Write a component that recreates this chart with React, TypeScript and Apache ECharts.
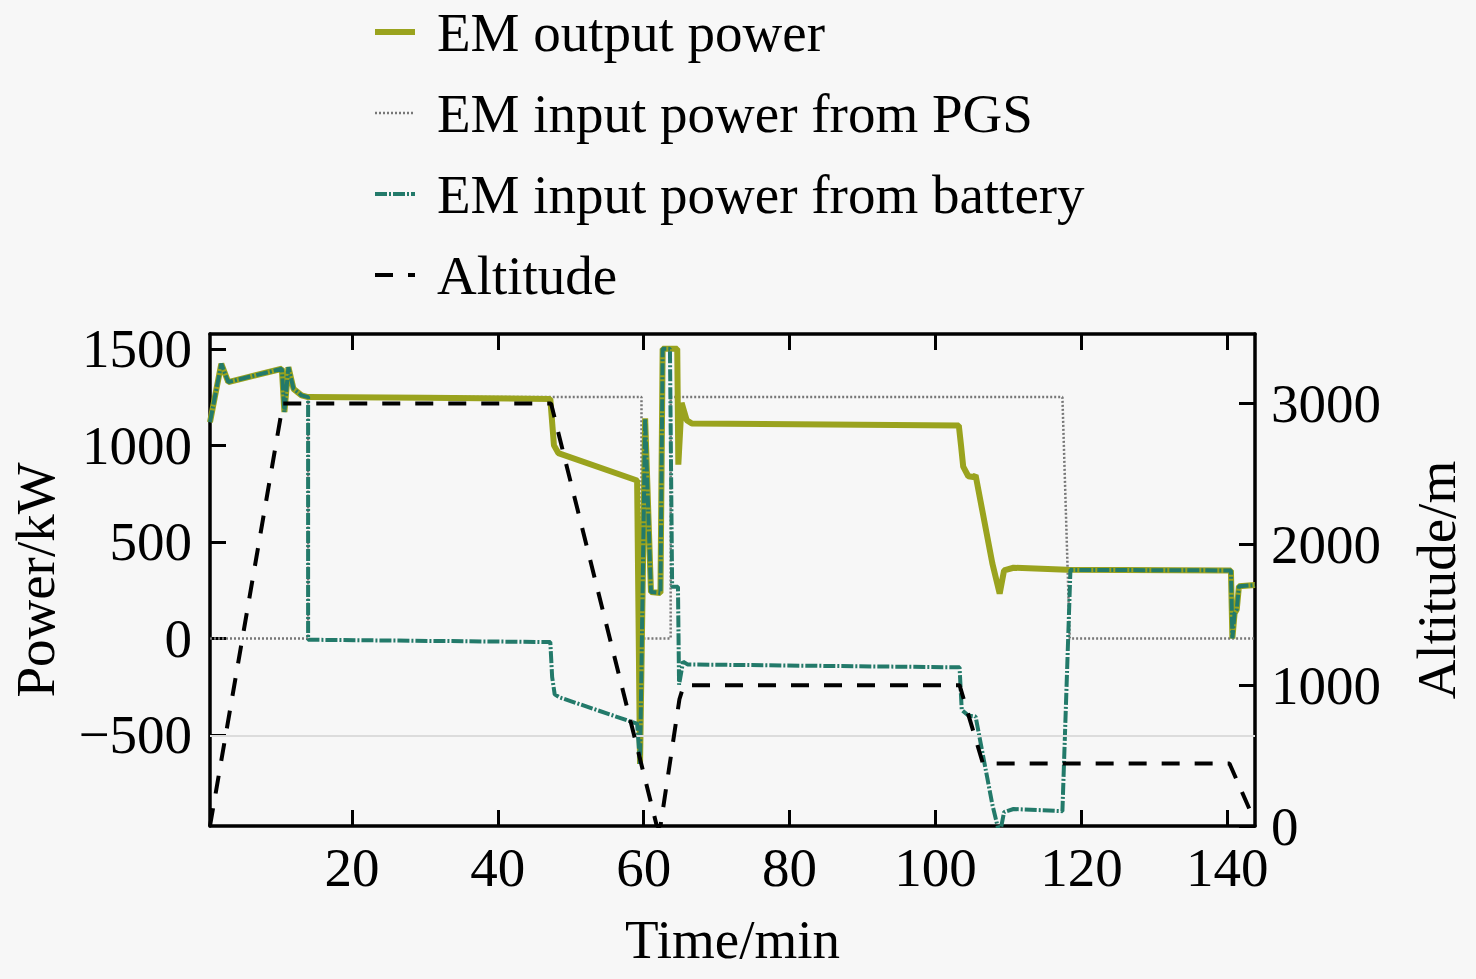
import React, { useEffect, useRef } from "react";
import * as echarts from "echarts";

// ---- Data ----
const xTicks = [20, 40, 60, 80, 100, 120, 140];
const powerTicks = [-500, 0, 500, 1000, 1500];
const altitudeTicks = [0, 1000, 2000, 3000];

const outputTime = [0.55, 2.1, 3.05, 10.4, 10.75, 11.3, 12.0, 13.1, 14.0, 30, 47.2, 47.45, 47.7, 48.3, 59.1, 59.5, 60.2, 61.0, 62.3, 62.6, 64.6, 64.75, 65.2, 65.9, 66.6, 103.2, 103.5, 103.8, 104.5, 105.2, 105.5, 107.8, 108.8, 109.4, 110.7, 118.0, 140.5, 140.7, 141.0, 141.3, 141.6, 143.8];
const outputPower = [1120, 1423, 1328, 1397, 1173, 1405, 1293, 1259, 1250, 1247, 1240, 1120, 1000, 960, 818, -650, 1140, 240, 235, 1500, 1500, 900, 1220, 1130, 1113, 1103, 1000, 890, 840, 836, 845, 388, 232, 352, 366, 355, 352, 0, 130, 150, 270, 276];

const pgsTime = [0.55, 14.0, 14.0, 59.7, 59.7, 63.7, 63.7, 117.4, 118.4, 143.8];
const pgsPower = [0, 0, 1250, 1250, 0, 0, 1250, 1250, 0, 0];

const batteryTime = [0.55, 2.1, 3.05, 10.4, 10.75, 11.3, 12.0, 13.1, 14.0, 14.0, 47.2, 47.45, 47.8, 48.5, 59.1, 59.5, 60.2, 61.0, 62.3, 62.6, 63.6, 63.9, 64.7, 64.85, 65.4, 66.0, 103.3, 103.6, 104.5, 105.5, 107.8, 108.8, 109.4, 110.7, 117.4, 118.5, 140.5, 140.7, 141.0, 141.3, 141.6, 143.8];
const batteryPower = [1120, 1423, 1328, 1397, 1173, 1405, 1293, 1259, 1250, -7, -19, -200, -290, -306, -442, -650, 1140, 240, 235, 1500, 1500, 267, 267, -240, -120, -135, -150, -370, -400, -405, -862, -1018, -900, -884, -895, 355, 352, 0, 130, 150, 270, 276];

const altitudeTime = [0.55, 10.55, 47.3, 61.8, 62.3, 64.9, 65.5, 103.3, 106.5, 140.3, 143.8];
const altitudeValue = [0, 3000, 3000, 0, 0, 900, 1000, 1000, 444, 444, 30];

const seriesNames = ["EM output power", "EM input power from PGS", "EM input power from battery", "Altitude"];

const FONT = '"Liberation Serif", "Times New Roman", serif';

const zip = (xs: number[], ys: number[]) => xs.map((x, i) => [x, ys[i]]);
const minus = (v: number) => String(v).replace("-", "\u2212");

export default function App() {
  const ref = useRef<HTMLDivElement>(null);

  useEffect(() => {
    if (!ref.current) return;
    const chart = echarts.init(ref.current, null, { renderer: "svg" });
    const axisLine = { show: true, onZero: false, lineStyle: { color: "#000", width: 3.5 } };
    const tick = (vals: number[]) => ({
      show: true,
      inside: true,
      length: 16,
      customValues: vals,
      lineStyle: { color: "#000", width: 3 },
    });
    const labelStyle = { fontFamily: FONT, fontSize: 55, color: "#000" };
    const nameStyle = { fontFamily: FONT, fontSize: 55, color: "#000" };

    const outputStyle = { color: "#9aa31e", width: 6, type: "solid" };
    const pgsStyle = { color: "#777777", width: 2.5, type: [2, 2] };
    const batteryStyle = { color: "#237a6a", width: 4, type: [12, 2, 2, 2] };
    const altitudeStyle = { color: "#000", width: 4, type: [18, 15] };

    chart.setOption({
      animation: false,
      backgroundColor: "#f7f7f7",
      grid: { left: 210, right: 221, top: 334, bottom: 153, containLabel: false },
      legend: {
        orient: "vertical",
        left: 372,
        top: 4,
        padding: 0,
        itemWidth: 40,
        itemHeight: 14,
        itemGap: 25,
        itemStyle: { opacity: 0 },
        data: [
          { name: seriesNames[0], lineStyle: outputStyle },
          { name: seriesNames[1], lineStyle: pgsStyle },
          { name: seriesNames[2], lineStyle: batteryStyle },
          { name: seriesNames[3], lineStyle: altitudeStyle },
        ],
        textStyle: { fontFamily: FONT, fontSize: 55, color: "#000", lineHeight: 56, padding: [0, 0, 0, 17] },
      },
      xAxis: [
        {
          type: "value",
          min: 0.55,
          max: 143.8,
          position: "bottom",
          name: "Time/min",
          nameLocation: "middle",
          nameGap: 86,
          nameTextStyle: nameStyle,
          axisLine,
          axisTick: tick(xTicks),
          axisLabel: { ...labelStyle, customValues: xTicks, margin: 14 },
          splitLine: { show: false },
        },
        {
          type: "value",
          min: 0.55,
          max: 143.8,
          position: "top",
          axisLine,
          axisTick: tick(xTicks),
          axisLabel: { show: false, customValues: xTicks },
          splitLine: { show: false },
        },
      ],
      yAxis: [
        {
          type: "value",
          min: -972,
          max: 1577,
          position: "left",
          name: "Power/kW",
          nameLocation: "middle",
          nameGap: 147,
          nameRotate: 90,
          nameTextStyle: nameStyle,
          axisLine,
          axisTick: tick(powerTicks),
          axisLabel: { ...labelStyle, customValues: powerTicks, margin: 18, formatter: (v: number) => minus(v) },
          splitLine: { show: false },
        },
        {
          type: "value",
          min: 0,
          max: 3494,
          position: "right",
          name: "Altitude/m",
          nameLocation: "middle",
          nameGap: 154,
          nameRotate: 90,
          nameTextStyle: nameStyle,
          axisLine,
          axisTick: tick(altitudeTicks),
          axisLabel: { ...labelStyle, customValues: altitudeTicks, margin: 16, formatter: (v: number) => String(v) },
          splitLine: { show: false },
        },
      ],
      series: [
        {
          name: seriesNames[1],
          type: "line",
          xAxisIndex: 0,
          yAxisIndex: 0,
          data: zip(pgsTime, pgsPower),
          symbol: "none",
          z: 2,
          lineStyle: pgsStyle,
          itemStyle: { color: pgsStyle.color },
          markLine: {
            silent: true,
            symbol: "none",
            label: { show: false },
            lineStyle: { color: "#dcdcdc", width: 2, type: "solid" },
            data: [{ yAxis: -505 }],
          },
        },
        {
          name: seriesNames[0],
          type: "line",
          xAxisIndex: 0,
          yAxisIndex: 0,
          data: zip(outputTime, outputPower),
          symbol: "none",
          z: 3,
          lineStyle: outputStyle,
          itemStyle: { color: outputStyle.color },
        },
        {
          name: seriesNames[2],
          type: "line",
          xAxisIndex: 0,
          yAxisIndex: 0,
          data: zip(batteryTime, batteryPower),
          symbol: "none",
          z: 4,
          lineStyle: batteryStyle,
          itemStyle: { color: batteryStyle.color },
        },
        {
          name: seriesNames[3],
          type: "line",
          xAxisIndex: 0,
          yAxisIndex: 1,
          data: zip(altitudeTime, altitudeValue),
          symbol: "none",
          z: 5,
          lineStyle: altitudeStyle,
          itemStyle: { color: "#000" },
        },
      ],
    });
    return () => chart.dispose();
  }, []);

  return (
    <div
      ref={ref}
      style={{ position: "absolute", left: 0, top: 0, width: 1476, height: 979 }}
    />
  );
}
